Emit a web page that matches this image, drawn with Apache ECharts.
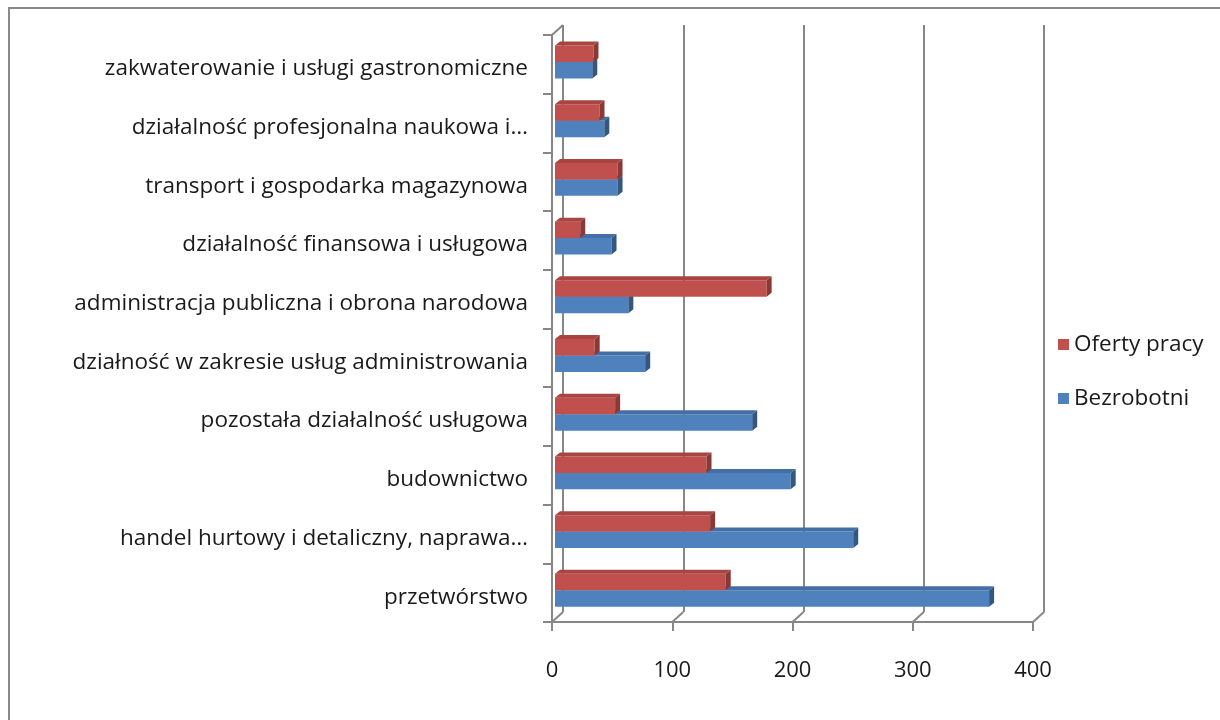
<!DOCTYPE html>
<html>
<head>
<meta charset="utf-8">
<script src="https://cdn.jsdelivr.net/npm/echarts@6/dist/echarts.min.js"></script>
<style>
  html, body { margin: 0; padding: 0; background: #fff; }
  #chart { width: 1220px; height: 720px; }
</style>
</head>
<body>
<div id="chart"></div>
<script>
// kategorie od dołu do góry
const categories = [
  'przetwórstwo',
  'handel hurtowy i detaliczny, naprawa…',
  'budownictwo',
  'pozostała działalność usługowa',
  'działność w zakresie usług administrowania',
  'administracja publiczna i obrona narodowa',
  'działalność finansowa i usługowa',
  'transport i gospodarka magazynowa',
  'działalność profesjonalna naukowa i…',
  'zakwaterowanie i usługi gastronomiczne'
]
const bezrobotni = [361, 248, 196, 164, 75, 61, 47, 52, 41, 31]
const ofertyPracy = [142, 129, 126, 50, 33, 176, 21, 52, 37, 32]
const xTicks = [0, 100, 200, 300, 400]

const FONT = '"Open Sans", sans-serif'
const WALL = '#878787'
const depthX = 5 // głębokość słupka 3D
const depthY = 4
const wallX = 11 // głębokość ścian wykresu
const wallY = 10

const colors = {
  red: { front: '#C0504D', top: '#A84542', side: '#8A3936' },
  blue: { front: '#4F81BD', top: '#436FA5', side: '#34577F' }
}

function makeBar(pal, upper) {
  return function (params, api) {
    const idx = api.value(1)
    const start = api.coord([0, idx])
    const end = api.coord([api.value(0), idx])
    const band = api.size([0, 1])[1]
    const h = band * 0.28
    const mid = start[1] - band * 0.04
    const top = upper ? mid - h : mid
    const x0 = start[0] + 3
    const x1 = end[0] + 3
    return {
      type: 'group',
      children: [
        {
          type: 'rect',
          shape: { x: x0, y: top, width: x1 - x0, height: h },
          style: { fill: pal.front }
        },
        {
          type: 'polygon',
          shape: { points: [[x0, top], [x0 + depthX, top - depthY], [x1 + depthX, top - depthY], [x1, top]] },
          style: { fill: pal.top }
        },
        {
          type: 'polygon',
          shape: { points: [[x1, top], [x1 + depthX, top - depthY], [x1 + depthX, top + h - depthY], [x1, top + h]] },
          style: { fill: pal.side }
        }
      ]
    }
  }
}

// ukośne linie podłogi i lewej ściany
function renderFloor(params, api) {
  const cs = params.coordSys
  const x = api.coord([api.value(0), 0])[0]
  const bottom = cs.y + cs.height
  const lines = [{
    type: 'line',
    shape: { x1: x, y1: bottom, x2: x + wallX, y2: bottom - wallY },
    style: { stroke: WALL, lineWidth: 2 }
  }]
  if (api.value(0) === 0) {
    lines.push({
      type: 'line',
      shape: { x1: x, y1: cs.y, x2: x + wallX, y2: cs.y - wallY },
      style: { stroke: WALL, lineWidth: 2 }
    })
  }
  return { type: 'group', children: lines }
}

const chart = echarts.init(document.getElementById('chart'))
const option = {
  animation: false,
  backgroundColor: '#fff',
  textStyle: { fontFamily: FONT },
  graphic: [{
    type: 'rect',
    shape: { x: 9, y: 8, width: 1400, height: 900 },
    style: { fill: 'none', stroke: '#8a8a8a', lineWidth: 2 },
    z: 0
  }],
  legend: {
    orient: 'vertical',
    left: 1053,
    top: 328,
    icon: 'rect',
    itemWidth: 11,
    itemHeight: 11,
    itemGap: 31,
    data: ['Oferty pracy', 'Bezrobotni'],
    textStyle: { fontSize: 22.5, color: '#1a1a1a', fontFamily: FONT }
  },
  grid: [
    { left: 552, right: 187, top: 35, bottom: 98 },
    { left: 552 + wallX, right: 187 - wallX, top: 35 - wallY, bottom: 98 + wallY }
  ],
  xAxis: [
    {
      type: 'value',
      gridIndex: 0,
      min: 0,
      max: 400,
      interval: 100,
      axisLine: { show: true, lineStyle: { color: WALL, width: 2 } },
      axisTick: { show: true, length: 9, lineStyle: { color: WALL, width: 2 } },
      splitLine: { show: false },
      axisLabel: { margin: 38, fontSize: 22, color: '#1a1a1a', fontFamily: FONT }
    },
    {
      type: 'value',
      gridIndex: 1,
      min: 0,
      max: 400,
      interval: 100,
      axisLine: { show: false },
      axisTick: { show: false },
      axisLabel: { show: false },
      splitLine: { show: true, lineStyle: { color: WALL, width: 2 } }
    }
  ],
  yAxis: [
    {
      type: 'category',
      gridIndex: 0,
      data: categories,
      axisLine: { show: true, lineStyle: { color: WALL, width: 2 } },
      axisTick: { show: true, length: 9, lineStyle: { color: WALL, width: 2 } },
      axisLabel: {
        margin: 24,
        formatter: v => '{c|' + v + '}',
        rich: {
          c: {
            fontSize: 22.5,
            padding: [9, 0, 0, 0],
            color: '#1a1a1a',
            fontFamily: FONT
          }
        }
      }
    },
    {
      type: 'category',
      gridIndex: 1,
      data: categories,
      show: false
    }
  ],
  series: [
    {
      name: 'floor',
      type: 'custom',
      xAxisIndex: 0,
      yAxisIndex: 0,
      renderItem: renderFloor,
      data: xTicks.map(v => [v]),
      encode: { x: 0 },
      silent: true,
      z: 1
    },
    {
      name: 'Bezrobotni',
      type: 'custom',
      xAxisIndex: 0,
      yAxisIndex: 0,
      renderItem: makeBar(colors.blue, false),
      itemStyle: { color: colors.blue.front },
      data: bezrobotni.map((v, i) => [v, i]),
      encode: { x: 0, y: 1 },
      z: 3
    },
    {
      name: 'Oferty pracy',
      type: 'custom',
      xAxisIndex: 0,
      yAxisIndex: 0,
      renderItem: makeBar(colors.red, true),
      itemStyle: { color: colors.red.front },
      data: ofertyPracy.map((v, i) => [v, i]),
      encode: { x: 0, y: 1 },
      z: 4
    }
  ]
}
chart.setOption(option)
</script>
</body>
</html>
